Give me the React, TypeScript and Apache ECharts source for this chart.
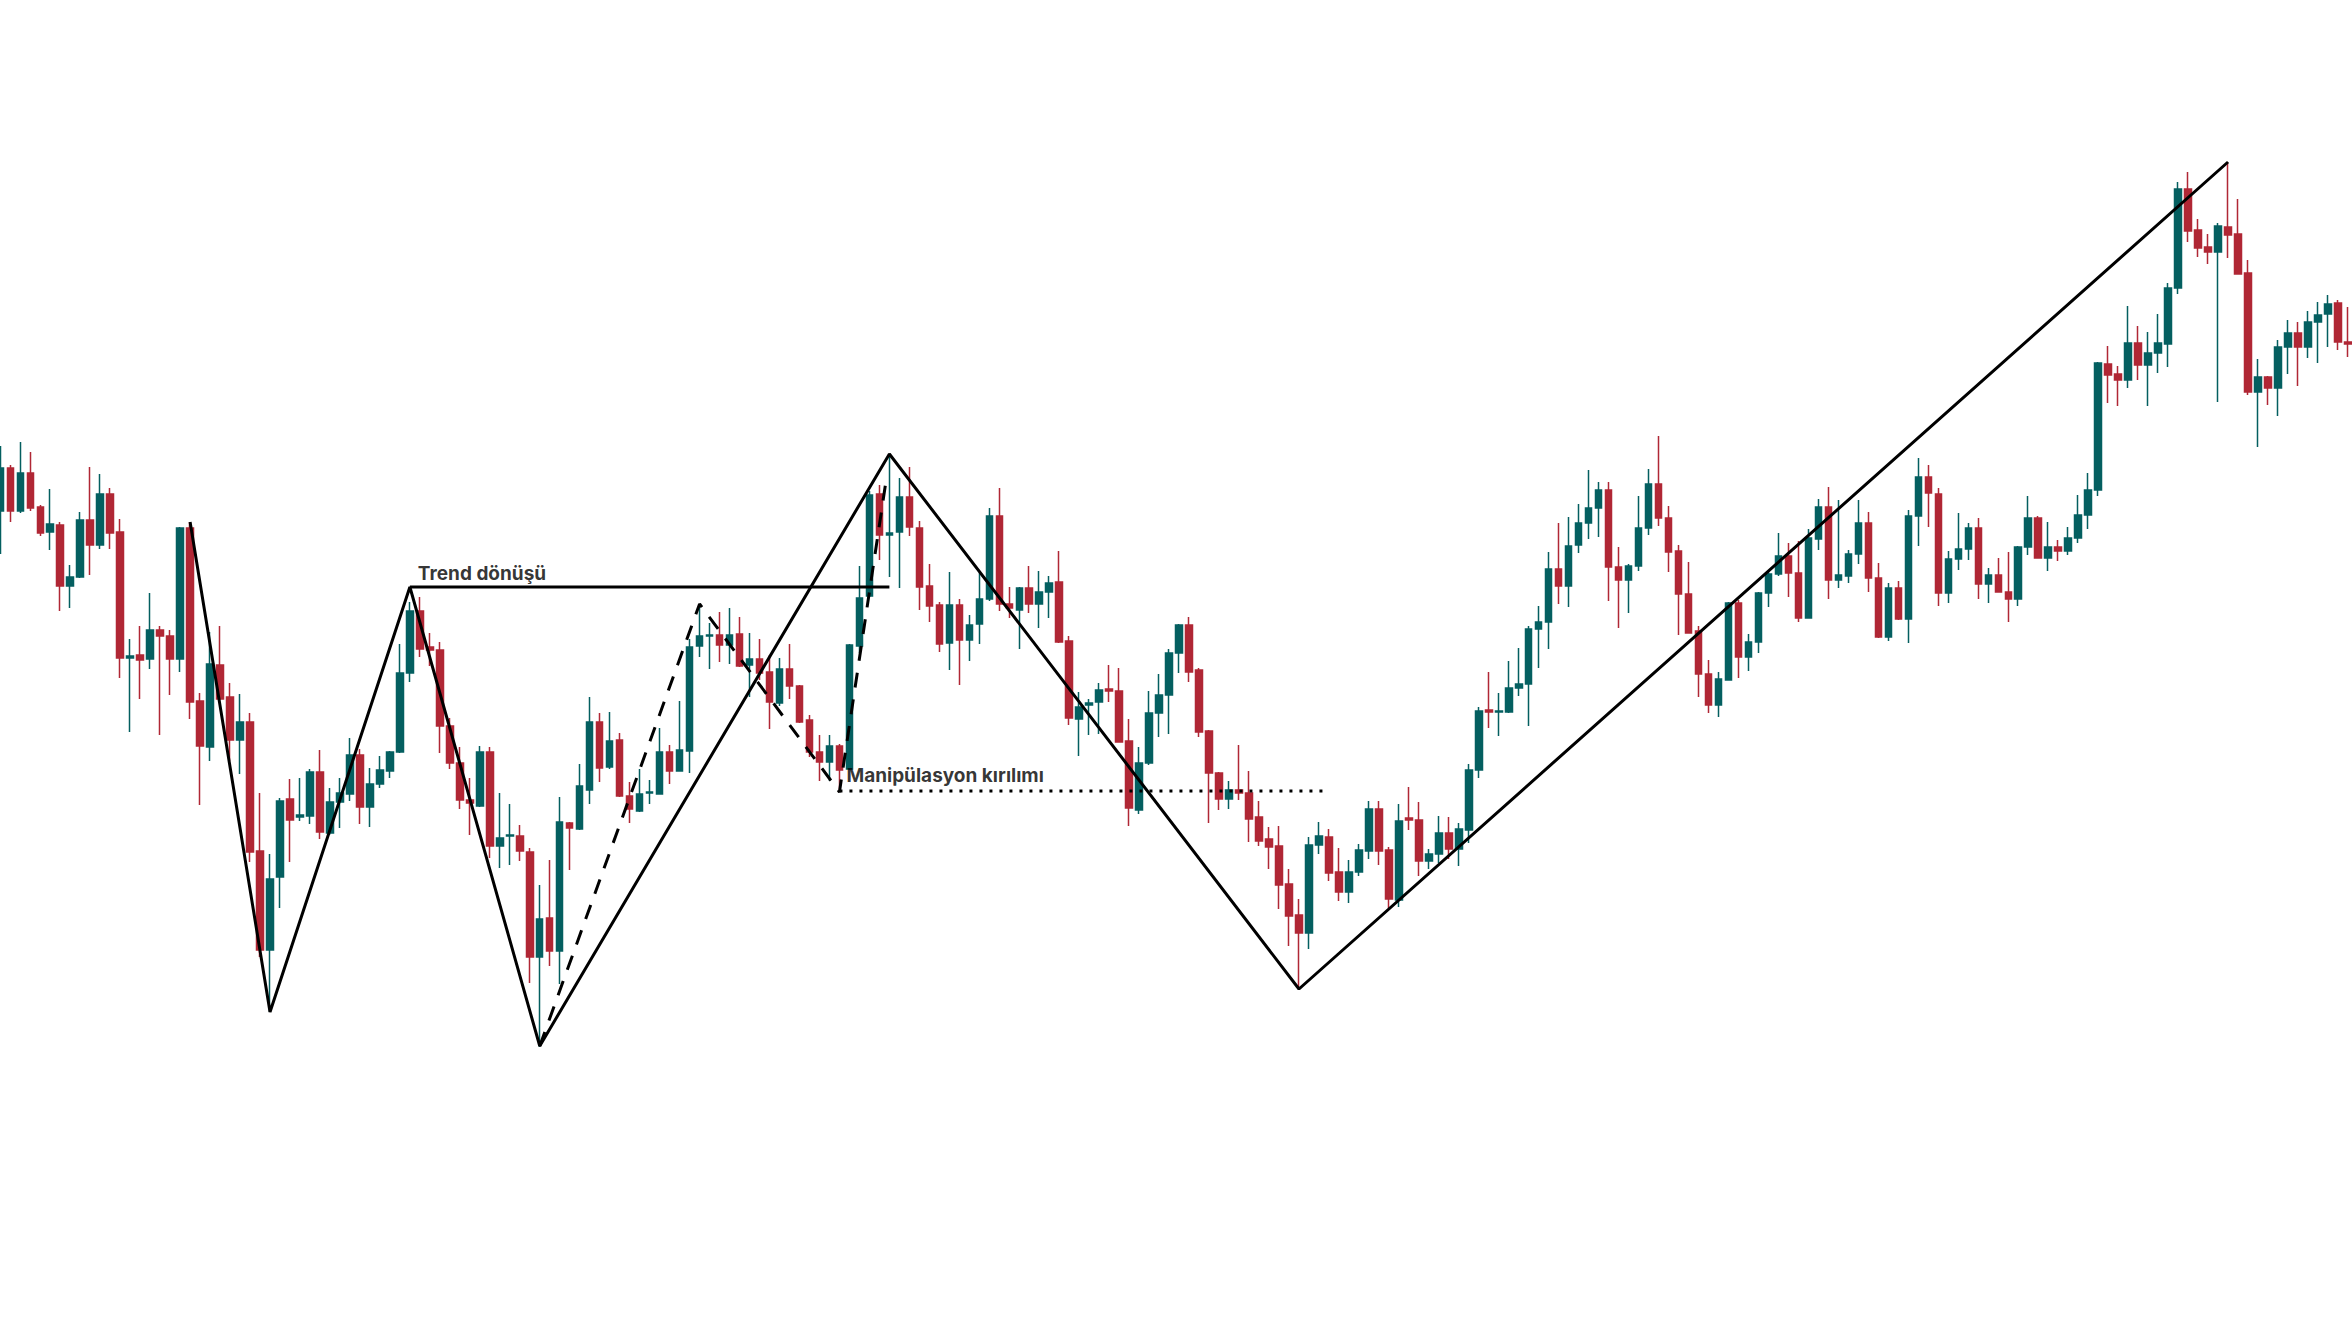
import React, { useEffect, useRef } from "react";
import * as echarts from "echarts";

// Price units are arbitrary (the chart has no visible axis).
// Each candle: [open, close, low, high]
const ohlc: [number, number, number, number][] = [
  [809, 852, 766, 874], [852, 809, 798, 855], [809, 847, 807, 878], [847, 812, 809, 868],
  [813, 787, 784, 815], [788, 796, 770, 831], [795, 734, 709, 798], [734, 743, 712, 755],
  [743, 800, 742, 808], [800, 775, 745, 853], [775, 826, 771, 846], [826, 787, 771, 832],
  [788, 662, 642, 801], [662, 664, 588, 681], [665, 660, 621, 694], [661, 690, 651, 727],
  [690, 684, 585, 694], [684, 661, 625, 690], [661, 792, 648, 793], [792, 618, 601, 798],
  [619, 574, 515, 627], [573, 656, 559, 688], [655, 621, 620, 694], [623, 580, 559, 637],
  [580, 598, 546, 626], [598, 468, 458, 607], [469, 370, 363, 527], [370, 441, 308, 466],
  [443, 519, 412, 522], [521, 500, 458, 541], [503, 505, 499, 542], [504, 548, 496, 551],
  [548, 488, 481, 570], [487, 518, 485, 532], [518, 527, 492, 542], [526, 565, 519, 582],
  [565, 513, 496, 571], [513, 536, 493, 552], [536, 550, 532, 564], [549, 568, 542, 569],
  [568, 647, 567, 676], [647, 709, 638, 718], [709, 671, 663, 723], [673, 670, 654, 687],
  [670, 594, 567, 678], [594, 557, 551, 602], [557, 520, 511, 573], [520, 517, 485, 542],
  [514, 568, 513, 574], [568, 474, 462, 573], [474, 482, 452, 527], [484, 485, 455, 516],
  [484, 469, 459, 495], [468, 363, 337, 472], [363, 401, 273, 435], [402, 369, 354, 460],
  [369, 498, 336, 523], [497, 492, 450, 498], [491, 534, 490, 556], [530, 598, 516, 623],
  [598, 552, 538, 607], [553, 579, 551, 608], [580, 524, 523, 587], [524, 511, 497, 538],
  [509, 526, 508, 551], [527, 528, 516, 540], [526, 568, 526, 592], [568, 549, 536, 575],
  [549, 570, 549, 619], [569, 673, 547, 681], [674, 684, 663, 716], [684, 685, 651, 697],
  [685, 675, 658, 708], [675, 685, 656, 712], [686, 654, 653, 703], [655, 661, 623, 687],
  [661, 647, 640, 681], [648, 618, 591, 665], [617, 651, 614, 662], [651, 634, 621, 676],
  [634, 598, 597, 635], [600, 568, 563, 605], [568, 558, 539, 585], [558, 574, 539, 585],
  [574, 550, 528, 576], [551, 675, 550, 676], [674, 722, 667, 754], [724, 825, 723, 829],
  [826, 785, 760, 835], [785, 787, 743, 866], [788, 823, 732, 842], [823, 793, 784, 853],
  [792, 733, 710, 799], [734, 714, 698, 756], [715, 676, 668, 718], [677, 715, 650, 748],
  [715, 680, 635, 721], [680, 695, 659, 705], [696, 721, 676, 747], [721, 804, 719, 812],
  [804, 716, 709, 832], [716, 712, 702, 733], [710, 732, 671, 733], [732, 716, 707, 754],
  [716, 728, 692, 749], [728, 737, 702, 744], [738, 678, 677, 769], [679, 602, 595, 684],
  [601, 613, 564, 628], [615, 617, 585, 621], [618, 630, 586, 637], [631, 629, 618, 655],
  [629, 578, 578, 652], [579, 512, 494, 601], [510, 557, 506, 573], [557, 607, 555, 629],
  [607, 625, 583, 646], [625, 667, 586, 671], [667, 695, 647, 696], [695, 648, 638, 703],
  [650, 588, 583, 652], [589, 547, 497, 590], [547, 521, 510, 548], [521, 530, 511, 539],
  [530, 527, 520, 575], [527, 501, 478, 549], [503, 479, 474, 519], [481, 473, 451, 493],
  [474, 435, 411, 494], [436, 404, 374, 451], [405, 387, 331, 421], [387, 475, 371, 483],
  [475, 484, 466, 498], [483, 447, 439, 491], [448, 428, 419, 472], [428, 448, 417, 460],
  [448, 470, 444, 476], [469, 511, 461, 519], [511, 469, 455, 519], [470, 421, 412, 473],
  [420, 499, 413, 516], [502, 500, 490, 533], [500, 459, 444, 518], [459, 466, 451, 471],
  [466, 487, 457, 504], [487, 471, 461, 503], [471, 491, 454, 497], [490, 550, 477, 556],
  [550, 609, 542, 613], [610, 608, 592, 648], [608, 609, 584, 627], [608, 632, 607, 659],
  [632, 636, 624, 672], [636, 691, 594, 694], [691, 698, 652, 714], [698, 751, 671, 768],
  [751, 734, 716, 797], [734, 774, 713, 803], [775, 797, 767, 816], [797, 812, 781, 850],
  [812, 830, 783, 838], [830, 753, 719, 838], [753, 740, 692, 773], [740, 754, 707, 756],
  [754, 792, 749, 824], [792, 836, 785, 851], [836, 802, 794, 884], [802, 768, 748, 814],
  [769, 726, 685, 775], [726, 687, 687, 758], [689, 646, 623, 694], [646, 615, 607, 660],
  [615, 641, 603, 648], [640, 717, 640, 718], [717, 663, 642, 720], [663, 678, 649, 686],
  [678, 727, 667, 728], [727, 746, 713, 748], [746, 764, 744, 787], [764, 747, 723, 777],
  [747, 702, 698, 779], [702, 782, 702, 791], [781, 813, 770, 821], [813, 740, 721, 833],
  [740, 745, 732, 820], [744, 766, 737, 770], [766, 797, 756, 820], [797, 742, 728, 808],
  [742, 683, 682, 757], [683, 732, 679, 737], [732, 701, 700, 739], [701, 804, 677, 810],
  [804, 843, 774, 862], [843, 827, 793, 855], [826, 727, 714, 832], [727, 761, 717, 769],
  [761, 771, 750, 807], [771, 792, 760, 797], [792, 736, 721, 802], [736, 745, 717, 752],
  [745, 728, 728, 762], [728, 721, 698, 768], [721, 773, 714, 774], [773, 802, 765, 824],
  [802, 762, 762, 804], [762, 773, 749, 798], [773, 769, 759, 780], [769, 782, 765, 793],
  [782, 805, 777, 825], [805, 830, 791, 847], [830, 957, 824, 958], [956, 945, 917, 974],
  [946, 940, 914, 954], [940, 977, 932, 1014], [977, 955, 940, 994], [955, 967, 914, 988],
  [967, 977, 947, 1006], [976, 1032, 953, 1037], [1032, 1131, 1026, 1138], [1131, 1089, 1078, 1148],
  [1090, 1072, 1063, 1101], [1073, 1068, 1056, 1086], [1068, 1094, 918, 1097], [1093, 1085, 1062, 1158],
  [1086, 1046, 1046, 1121], [1047, 928, 925, 1060], [928, 943, 873, 961], [943, 932, 915, 944],
  [932, 973, 904, 980], [973, 987, 946, 1000], [987, 973, 934, 998], [973, 998, 962, 1009],
  [998, 1005, 957, 1018], [1006, 1016, 973, 1025], [1017, 978, 970, 1020], [978, 976, 963, 1013],
];

// Swing structure (candle index, price)
const zigzag: [number, number][] = [
  [19, 798], [27, 308], [41, 733], [54, 274], [89, 866], [130, 331], [223, 1158],
];
const trendLevel: [number, number][] = [[41, 733], [89, 733]];
const manipulationPath: [number, number][] = [[54, 274], [70, 716], [84, 528], [88.6, 835]];
const manipulationLevel: [number, number][] = [[84, 529], [133, 529]];

const labels = [
  { name: "Trend dönüşü", value: [41.8, 747] },
  { name: "Manipülasyon kırılımı", value: [84.7, 544.5] },
];

const TEAL = "#045f60";
const RED = "#b02735";

export default function App() {
  const ref = useRef<HTMLDivElement>(null);
  useEffect(() => {
    if (!ref.current) return;
    const chart = echarts.init(ref.current, undefined, { renderer: "svg" });
    const candles = ohlc.map((d, i) => [i, d[0], d[1], d[2], d[3]]);
    const lineBase = {
      type: "line" as const,
      symbol: "none",
      showSymbol: false,
      silent: true,
      z: 5,
    };
    chart.setOption({
      animation: false,
      backgroundColor: "#ffffff",
      grid: { left: 0, right: 0, top: 0, bottom: 0 },
      xAxis: { type: "value", min: -0.03, max: 235.41, show: false, splitLine: { show: false } },
      yAxis: { type: "value", min: 0, max: 1320, show: false, splitLine: { show: false } },
      series: [
        {
          type: "candlestick",
          data: candles,
          barWidth: 7,
          silent: true,
          itemStyle: {
            color: TEAL,
            color0: RED,
            borderColor: TEAL,
            borderColor0: RED,
            borderWidth: 1.5,
          },
        },
        { ...lineBase, data: zigzag, lineStyle: { color: "#000", width: 3 } },
        { ...lineBase, data: trendLevel, lineStyle: { color: "#000", width: 3 } },
        {
          ...lineBase,
          data: manipulationPath,
          lineStyle: { color: "#000", width: 3, type: [15, 12] },
        },
        {
          ...lineBase,
          data: manipulationLevel,
          lineStyle: { color: "#000", width: 3, type: [3, 7] },
        },
        {
          type: "scatter",
          data: labels,
          symbolSize: 0,
          silent: true,
          z: 6,
          label: {
            show: true,
            position: "right",
            distance: 0,
            formatter: "{b}",
            color: "#000",
            fontSize: 19,
            fontWeight: "bold",
            fontFamily: "Inter, 'Noto Sans', sans-serif",
          },
        },
      ],
    });
    return () => chart.dispose();
  }, []);
  return (
    <div
      ref={ref}
      style={{ position: "absolute", left: 0, top: 0, width: 2352, height: 1320, background: "#fff" }}
    />
  );
}
